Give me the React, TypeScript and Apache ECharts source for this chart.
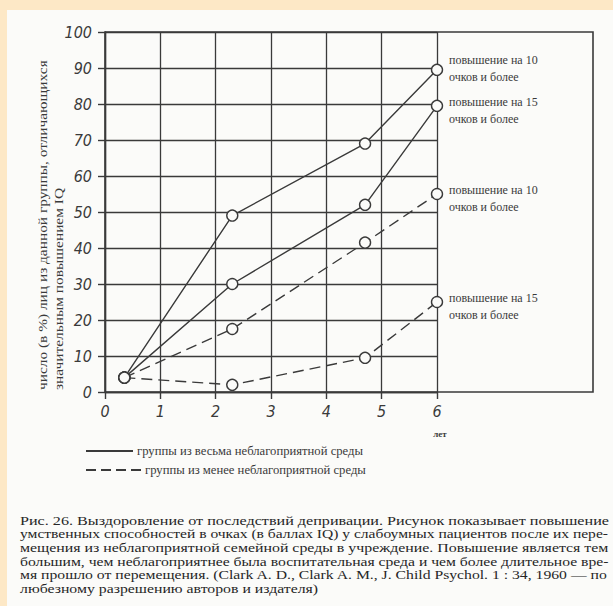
import React, { useEffect, useRef } from "react";
import * as echarts from "echarts";

// ---- data ----
const years = [0.35, 2.3, 4.7, 6];
const severeGain10 = [4, 49, 69, 89.5];
const severeGain15 = [4, 30, 52, 79.5];
const milderGain10 = [4, 17.5, 41.5, 55];
const milderGain15 = [4, 2, 9.5, 25];
const xMin = 0;
const xMax = 6;
const yMin = 0;
const yMax = 100;
const xUnitLabel = "лет";
const endLabels = [
  "повышение на 10\nочков и более",
  "повышение на 15\nочков и более",
  "повышение на 10\nочков и более",
  "повышение на 15\nочков и более",
];
const legendLabels = [
  "группы из весьма неблагоприятной среды",
  "группы из менее неблагоприятной среды",
];
const yTitle = [
  "число (в %) лиц из данной группы, отличающихся",
  "значительным повышением IQ",
];
const caption = [
  "Рис. 26. Выздоровление от последствий депривации. Рисунок показывает повышение",
  "умственных способностей в очках (в баллах IQ) у слабоумных пациентов после их пере-",
  "мещения из неблагоприятной семейной среды в учреждение. Повышение является тем",
  "большим, чем неблагоприятнее была воспитательная среда и чем более длительное вре-",
  "мя прошло от перемещения. (Clark A. D., Clark A. M., J. Child Psychol. 1 : 34, 1960 — по",
  "любезному разрешению авторов и издателя)",
];

// ---- layout / style ----
const W = 613;
const H = 606;
const GL = 105;
const GT = 32;
const GW = 332;
const GH = 360;
const FRAME_R = 593;
const INK = "#3a3a3a";
const SERIF = "'Liberation Serif', 'DejaVu Serif', serif";
const TICKFONT = "'Liberation Sans Narrow', 'DejaVu Sans Condensed', 'DejaVu Sans', sans-serif";
const LABEL_DY = [-1, 5, 4, 4];

function measure(text: string, font: string): number {
  const c = document.createElement("canvas").getContext("2d");
  if (!c) return text.length * 6;
  c.font = font;
  return c.measureText(text).width;
}

export default function App() {
  const ref = useRef<HTMLDivElement>(null);
  useEffect(() => {
    if (!ref.current) return;
    const chart = echarts.init(ref.current, undefined, { renderer: "svg" });

    const capSize = 12;
    const capFont = `${capSize}px 'Liberation Serif'`;
    const capLeft = 20;
    const capRight = 609;
    const capTop = 521;
    const capStep = 13.6;
    const scales = caption.map((t) => (capRight - capLeft) / measure(t, capFont));
    const avgScale = scales.slice(0, -1).reduce((a, b) => a + b, 0) / (scales.length - 1);
    const captionEls = caption.map((t, i) => ({
      type: "text",
      x: capLeft,
      y: capTop + i * capStep,
      scaleX: i === caption.length - 1 ? avgScale : scales[i],
      silent: true,
      style: {
        text: t,
        fill: "#262626",
        font: capFont,
        textVerticalAlign: "middle",
      },
    }));

    const ytSize = 12;
    const ytFont = `${ytSize}px 'Liberation Serif'`;
    const ytScale = 330 / measure(yTitle[0], ytFont);
    const yTitleEls = yTitle.map((t, i) => ({
      type: "text",
      x: 43 + i * 16,
      y: 390,
      rotation: Math.PI / 2,
      scaleX: ytScale,
      silent: true,
      style: {
        text: t,
        fill: INK,
        font: ytFont,
        textAlign: "left",
        textVerticalAlign: "middle",
      },
    }));

    const legFont = `12px 'Liberation Serif'`;
    const legScale = 226 / measure(legendLabels[0], legFont);

    const mkSeries = (vals: number[], i: number, dashed: boolean) => ({
      type: "line",
      data: years.map((x, k) => [x, vals[k]]),
      symbol: "circle",
      symbolSize: 11,
      showAllSymbol: true,
      z: 3 + i,
      lineStyle: { color: INK, width: 1.4, type: dashed ? [11, 6] : "solid" },
      itemStyle: { color: "#fbfbf9", borderColor: INK, borderWidth: 1.4 },
      endLabel: {
        show: true,
        formatter: endLabels[i],
        color: INK,
        fontFamily: SERIF,
        fontSize: 12,
        lineHeight: 17,
        distance: 12,
        offset: [0, LABEL_DY[i]],
      },
      emphasis: { disabled: true },
    });

    chart.setOption({
      animation: false,
      grid: { left: GL, top: GT, width: GW, height: GH, containLabel: false },
      xAxis: {
        type: "value",
        min: xMin,
        max: xMax,
        interval: 1,
        axisLine: { show: true, lineStyle: { color: INK, width: 1.4 } },
        axisTick: { show: true, length: 7, lineStyle: { color: INK, width: 1.4 } },
        splitLine: { show: true, lineStyle: { color: INK, width: 1.3 } },
        axisLabel: {
          margin: 11,
          color: INK,
          fontFamily: TICKFONT,
          fontStyle: "italic",
          fontSize: 16,
        },
      },
      yAxis: {
        type: "value",
        min: yMin,
        max: yMax,
        interval: 10,
        axisLine: { show: true, lineStyle: { color: INK, width: 1.4 } },
        axisTick: { show: true, length: 7, lineStyle: { color: INK, width: 1.4 } },
        splitLine: { show: true, lineStyle: { color: INK, width: 1.3 } },
        axisLabel: {
          margin: 13,
          color: INK,
          fontFamily: TICKFONT,
          fontStyle: "italic",
          fontSize: 16,
        },
      },
      series: [
        mkSeries(severeGain10, 0, false),
        mkSeries(severeGain15, 1, false),
        mkSeries(milderGain10, 2, true),
        mkSeries(milderGain15, 3, true),
      ],
      graphic: {
        elements: [
          {
            type: "rect",
            silent: true,
            shape: { x: GL, y: GT, width: FRAME_R - GL, height: GH },
            style: { fill: "none", stroke: INK, lineWidth: 1.6 },
          },
          {
            type: "text",
            x: GL + GW + 3,
            y: GT + GH + 42,
            silent: true,
            style: {
              text: xUnitLabel,
              fill: INK,
              font: `bold 9px 'Liberation Serif'`,
              textAlign: "center",
              textVerticalAlign: "middle",
            },
          },
          ...yTitleEls,
          {
            type: "line",
            silent: true,
            shape: { x1: 86, y1: 451, x2: 133, y2: 451 },
            style: { stroke: INK, lineWidth: 2 },
          },
          {
            type: "text",
            x: 137,
            y: 451,
            scaleX: legScale,
            silent: true,
            style: { text: legendLabels[0], fill: INK, font: legFont, textVerticalAlign: "middle" },
          },
          {
            type: "line",
            silent: true,
            shape: { x1: 86, y1: 470, x2: 142, y2: 470 },
            style: { stroke: INK, lineWidth: 2, lineDash: [10, 5] },
          },
          {
            type: "text",
            x: 145,
            y: 470,
            scaleX: legScale,
            silent: true,
            style: { text: legendLabels[1], fill: INK, font: legFont, textVerticalAlign: "middle" },
          },
          ...captionEls,
        ],
      },
    });
    return () => chart.dispose();
  }, []);

  return (
    <div
      ref={ref}
      style={{
        position: "fixed",
        left: 0,
        top: 0,
        width: W,
        height: H,
        overflow: "hidden",
        background:
          "linear-gradient(#fbfbf9, #fbfbf9) 7px 10px / 606px 596px no-repeat, #fde8c6",
      }}
    />
  );
}
